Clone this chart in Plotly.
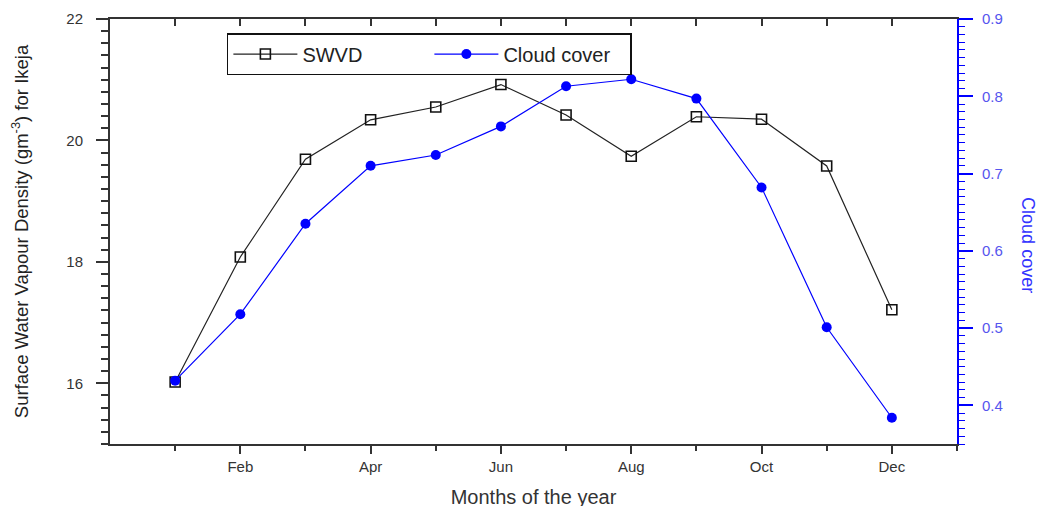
import plotly.graph_objects as go

months = ["Jan", "Feb", "Mar", "Apr", "May", "Jun", "Jul", "Aug", "Sep", "Oct", "Nov", "Dec"]
month_num = list(range(1, 13))
swvd = [16.02, 18.08, 19.69, 20.34, 20.55, 20.92, 20.42, 19.74, 20.39, 20.35, 19.58, 17.21]
cloud_cover = [0.432, 0.518, 0.635, 0.710, 0.724, 0.761, 0.813, 0.822, 0.797, 0.682, 0.501, 0.384]

label_months = month_num[1::2]
label_text = months[1::2]

FONT = "Liberation Sans, Arial, sans-serif"
AXIS_GREY = "#333333"

fig = go.Figure()
fig.add_trace(
    go.Scatter(
        x=month_num,
        y=swvd,
        name="SWVD",
        mode="lines+markers",
        line=dict(color="#222222", width=1.2),
        marker=dict(symbol="square-open", size=10, color="#111111", line=dict(width=1.6)),
    )
)
fig.add_trace(
    go.Scatter(
        x=month_num,
        y=cloud_cover,
        name="Cloud cover",
        mode="lines+markers",
        line=dict(color="#0000ff", width=1.2),
        marker=dict(symbol="circle", size=10, color="#0000ff"),
        xaxis="x2",
        yaxis="y2",
    )
)

# the page body adds an 8px offset, so margins are trimmed by 8
fig.update_layout(
    width=1052,
    height=506,
    margin=dict(l=102, r=103, t=11, b=70),
    plot_bgcolor="white",
    paper_bgcolor="white",
    font=dict(family=FONT, color="#333333"),
    showlegend=True,
    legend=dict(
        orientation="h",
        x=0.138,
        y=0.967,
        xanchor="left",
        yanchor="top",
        bordercolor="#111111",
        borderwidth=1.5,
        bgcolor="white",
        font=dict(size=20, color="#222222", family=FONT),
        itemwidth=64,
        entrywidth=122,
        tracegroupgap=0,
    ),
    xaxis=dict(
        automargin=False,
        range=[0, 13],
        tickvals=label_months,
        ticktext=label_text,
        ticks="outside",
        ticklen=8,
        tickwidth=1.5,
        tickcolor=AXIS_GREY,
        minor=dict(tickvals=[1, 3, 5, 7, 9, 11, 13], ticks="outside", ticklen=5, tickwidth=1.5, tickcolor=AXIS_GREY),
        showline=True,
        linecolor=AXIS_GREY,
        linewidth=2,
        showgrid=False,
        zeroline=False,
        tickfont=dict(size=15, color="#333333"),
        ticklabelstandoff=0,
        title=dict(text="Months of the year", font=dict(size=20, color="#333333"), standoff=16),
    ),
    xaxis2=dict(
        automargin=False,
        range=[0, 13],
        overlaying="x",
        side="top",
        anchor="y2",
        tickvals=label_months,
        ticks="inside",
        ticklen=7,
        tickwidth=1.5,
        tickcolor=AXIS_GREY,
        minor=dict(tickvals=[1, 3, 5, 7, 9, 11], ticks="inside", ticklen=7, tickwidth=1.5, tickcolor=AXIS_GREY),
        showticklabels=False,
        showline=True,
        linecolor=AXIS_GREY,
        linewidth=2,
        showgrid=False,
        zeroline=False,
    ),
    yaxis=dict(
        automargin=False,
        range=[15, 22],
        tickvals=[16, 18, 20, 22],
        ticks="outside",
        ticklen=12,
        tickwidth=1.5,
        tickcolor=AXIS_GREY,
        minor=dict(dtick=0.2, ticks="outside", ticklen=7, tickwidth=1.5, tickcolor=AXIS_GREY),
        showline=True,
        linecolor=AXIS_GREY,
        linewidth=2,
        showgrid=False,
        zeroline=False,
        tickfont=dict(size=15, color="#333333"),
        ticklabelstandoff=10,
        title=dict(
            text="Surface Water Vapour Density (gm<sup>-3</sup>) for Ikeja",
            font=dict(size=18.5, color="#222222"),
            standoff=38,
        ),
    ),
    yaxis2=dict(
        automargin=False,
        range=[0.35, 0.9],
        overlaying="y",
        side="right",
        anchor="x2",
        tickvals=[0.4, 0.5, 0.6, 0.7, 0.8, 0.9],
        tickformat=".1f",
        ticks="outside",
        ticklen=14,
        tickwidth=1.5,
        tickcolor="#0000ff",
        minor=dict(dtick=0.01, ticks="outside", ticklen=6, tickwidth=1.2, tickcolor="#0000ff"),
        showline=True,
        linecolor="#0000ff",
        linewidth=2,
        showgrid=False,
        zeroline=False,
        tickfont=dict(size=15, color="#5555ee"),
        ticklabelstandoff=6,
    ),
    annotations=[
        dict(
            text="Cloud cover",
            xref="paper",
            yref="paper",
            x=1.098,
            y=0.468,
            showarrow=False,
            textangle=90,
            font=dict(size=18, color="#3333ff", family=FONT),
        )
    ],
)

fig.write_html("out.html")
